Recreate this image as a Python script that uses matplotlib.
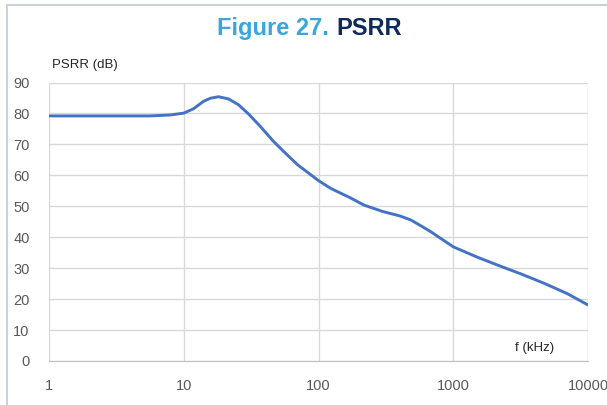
import matplotlib.pyplot as plt
from matplotlib.patches import Rectangle

# PSRR vs frequency
freq_khz = [1, 2, 4, 5.6, 7.9, 10, 11.8, 14, 15.7, 18.1, 21.5, 25.5, 30.3, 37,
            46.5, 55.2, 70, 100, 123, 173, 217, 300, 400, 483, 580, 680, 1000,
            1500, 2130, 3200, 4730, 7000, 10000]
psrr_db = [79.2, 79.2, 79.2, 79.2, 79.5, 80.1, 81.5, 83.9, 84.9, 85.4, 84.7,
           82.8, 79.8, 75.8, 70.9, 67.7, 63.4, 58.3, 55.8, 52.7, 50.4, 48.3,
           46.9, 45.6, 43.6, 41.8, 36.9, 33.6, 31.0, 28.1, 25.1, 21.8, 18.1]
x_ticks = [1, 10, 100, 1000, 10000]
y_ticks = list(range(0, 100, 10))

plt.rcParams['font.family'] = ['Liberation Sans', 'DejaVu Sans']

fig = plt.figure(figsize=(6.07, 4.05), dpi=100)
ax = fig.add_axes([49 / 607, 44 / 405, 539 / 607, 278.5 / 405])

# light frame round the whole chart
fig.patches.append(Rectangle((6.5 / 607, -0.1), 1.2, 1.1 - 5.5 / 405,
                             transform=fig.transFigure, fill=False,
                             edgecolor='#c8d3db', lw=1.5))

ax.plot(freq_khz, psrr_db, color='#4472c4', lw=2.1,
        solid_capstyle='round', solid_joinstyle='round')

ax.set_xscale('log')
ax.set_xlim(1, 10000)
ax.set_ylim(0, 90)
ax.set_xticks(x_ticks)
ax.set_xticklabels([str(t) for t in x_ticks])
ax.set_yticks(y_ticks)
ax.minorticks_off()
ax.grid(True, color='#d9d9d9', lw=1)
ax.tick_params(length=0, labelsize=10.5, labelcolor='#595959')
ax.tick_params(axis='x', pad=13)
ax.tick_params(axis='y', pad=14)
for side in ['top', 'right', 'left']:
    ax.spines[side].set_visible(False)
ax.spines['bottom'].set_color('#bfbfbf')

ax.text(0.005, 1.04, 'PSRR (dB)', transform=ax.transAxes, fontsize=9.5,
        color='#262626', ha='left', va='bottom')
ax.text(0.865, 0.025, 'f (kHz)', transform=ax.transAxes, fontsize=9.5,
        color='#262626', ha='left', va='bottom')

fig.text(329 / 607, 1 - 35 / 405, 'Figure 27.', fontsize=17, fontweight='bold',
         color='#3aa6dd', ha='right', va='baseline')
fig.text(336 / 607, 1 - 35 / 405, 'PSRR', fontsize=17, fontweight='bold',
         color='#0c2a5a', ha='left', va='baseline')

fig.savefig('out.png', dpi=100)
